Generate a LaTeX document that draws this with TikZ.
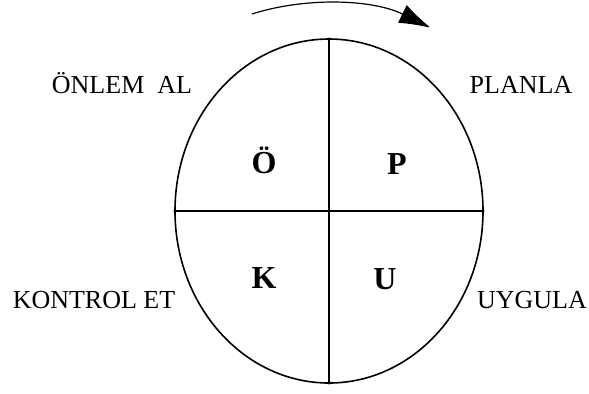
\documentclass[tikz,border=0pt]{standalone}
\usepackage{fontspec}
\setmainfont{Liberation Serif}
\usetikzlibrary{arrows.meta, shapes.geometric}
\tikzset{
    cycle/.style={x=0.5pt, y=-0.5pt, line cap=round, line join=round},
    wheel/.style={draw, thick, ellipse, minimum width=154pt,
                  minimum height=172pt, inner sep=0pt},
    divider/.style={thick},
    steplabel/.style={font=\fontsize{13}{15}\selectfont, anchor=base,
                      inner sep=0pt},
    initial/.style={font=\fontsize{16}{18}\selectfont\bfseries, anchor=base,
                    inner sep=0pt},
    turnarrow/.style={semithick, -{Latex[round, length=16pt, width=10pt]}},
}

\begin{document}
\begin{tikzpicture}[cycle]
\useasboundingbox (0,0) rectangle (589,393);

% ─── Daire ve bölmeler ──────────────────────────────────────────────────
\node[wheel] (wheel) at (329,211) {};
\draw[divider] (wheel.north) -- (wheel.south);
\draw[divider] (wheel.west)  -- (wheel.east);

% ─── Harfler ────────────────────────────────────────────────────────────
\node[initial] (o) at (264,173) {Ö};
\node[initial] (p) at (397,174) {P};
\node[initial] (k) at (264,288) {K};
\node[initial] (u) at (385,289) {U};

% ─── Adımlar ────────────────────────────────────────────────────────────
\node[steplabel] (onlem)   at (122,93)  {ÖNLEM~ AL};
\node[steplabel] (planla)  at (521,93)  {PLANLA};
\node[steplabel] (kontrol) at (94,308)  {KONTROL ET};
\node[steplabel] (uygula)  at (532,308) {UYGULA};

% ─── Dönüş yönü ─────────────────────────────────────────────────────────
\coordinate (turnstart) at (252,14);
\coordinate (turnend)   at (429,27);
\draw[turnarrow] (turnstart) .. controls (305,-3) and (372,-1) .. (turnend);

\end{tikzpicture}
\end{document}
